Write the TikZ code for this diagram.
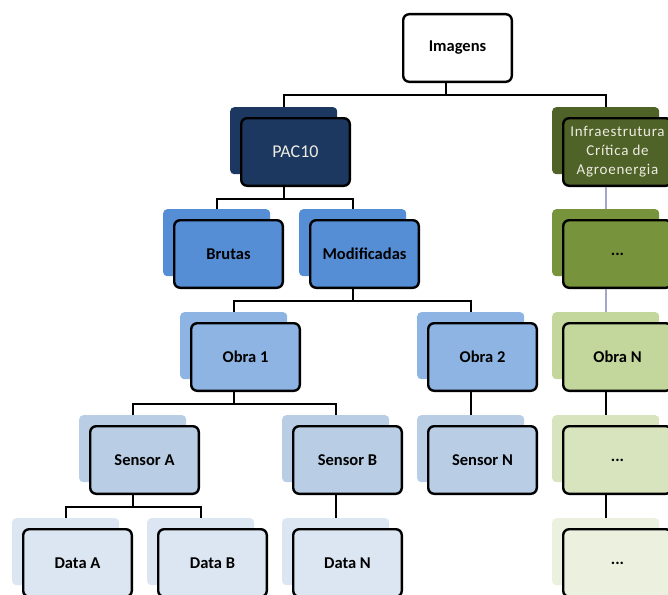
\documentclass[tikz,border=0pt]{standalone}
\usepackage{fontspec}
\setmainfont{Carlito}
\newfontfamily\widefont[LetterSpace=5]{Carlito}
\usepackage{tikz}
\usetikzlibrary{positioning}
\definecolor{colornavy}    {RGB}{28 ,56 ,96 }
\definecolor{colorblue}    {RGB}{85 ,142,213}
\definecolor{colorsky}     {RGB}{142,180,227}
\definecolor{colorice}     {RGB}{185,205,229}
\definecolor{colorfrost}   {RGB}{220,230,242}
\definecolor{colorolive}   {RGB}{79 ,98 ,40 }
\definecolor{colorleaf}    {RGB}{119,147,60 }
\definecolor{colorlime}    {RGB}{195,214,155}
\definecolor{colorpea}     {RGB}{215,228,189}
\definecolor{colormint}    {RGB}{235,241,222}
\definecolor{colorlav}     {RGB}{165,165,200}
\definecolor{colorpale}    {RGB}{238,236,225}

\begin{document}
\begin{tikzpicture}[
    x=1pt, y=1pt,
    font={\bfseries\fontsize{16.5}{19}\selectfont},
    back/.style={fill=#1,rounded corners=4pt,inner sep=0pt,
                 minimum width=107pt,minimum height=67pt,anchor=north west},
    front/.style={fill=#1,draw=black,line width=2.4pt,rounded corners=6pt,
                  inner sep=0pt,align=center,
                  minimum width=108.6pt,minimum height=67.6pt},
    light/.style={text=colorpale,font={\mdseries\fontsize{18}{21}\selectfont}},
    wide/.style={text=colorpale,font={\widefont\fontsize{15}{19}\selectfont}},
    link/.style={draw=black,line width=2pt},
    softlink/.style={draw=colorlav,line width=2pt},
]
    \useasboundingbox (0,0) rectangle (668,-594);
    \clip (0,0) rectangle (668,-594);

    % top
    \node[front=white,anchor=north west] (img) at (402,-13) {Imagens};

    % level 1
    \node[back=colornavy]  (pacB) at (230,-107) {};
    \node[front=colornavy,light,below right=10pt and 10pt of pacB.north west] (pac) {PAC10};
    \node[back=colorolive] (infB) at (552,-107) {};
    \node[front=colorolive,wide,below right=10pt and 10pt of infB.north west] (inf)
        {Infraestrutura\\Crítica de\\Agroenergia};

    % level 2
    \node[back=colorblue]  (brutB) at (163,-209) {};
    \node[front=colorblue,below right=10pt and 10pt of brutB.north west] (brut) {Brutas};
    \node[back=colorblue]  (modB)  at (299,-209) {};
    \node[front=colorblue,below right=10pt and 10pt of modB.north west]  (mod)  {Modificadas};
    \node[back=colorleaf]  (gaB)   at (552,-209) {};
    \node[front=colorleaf,below right=10pt and 10pt of gaB.north west]   (ga)   {...};

    % level 3
    \node[back=colorsky]   (obaB) at (180,-312) {};
    \node[front=colorsky,below right=10pt and 10pt of obaB.north west]  (oba) {Obra 1};
    \node[back=colorsky]   (obbB) at (417,-312) {};
    \node[front=colorsky,below right=10pt and 10pt of obbB.north west]  (obb) {Obra 2};
    \node[back=colorlime]  (obnB) at (552,-312) {};
    \node[front=colorlime,below right=10pt and 10pt of obnB.north west] (obn) {Obra N};

    % level 4
    \node[back=colorice]   (saB) at (79,-415)  {};
    \node[front=colorice,below right=10pt and 10pt of saB.north west] (sa) {Sensor A};
    \node[back=colorice]   (sbB) at (282,-415) {};
    \node[front=colorice,below right=10pt and 10pt of sbB.north west] (sb) {Sensor B};
    \node[back=colorice]   (snB) at (417,-415) {};
    \node[front=colorice,below right=10pt and 10pt of snB.north west] (sn) {Sensor N};
    \node[back=colorpea]   (gbB) at (552,-415) {};
    \node[front=colorpea,below right=10pt and 10pt of gbB.north west] (gb) {...};

    % level 5
    \node[back=colorfrost] (daB) at (12,-518)  {};
    \node[front=colorfrost,below right=10pt and 10pt of daB.north west] (da) {Data A};
    \node[back=colorfrost] (dbB) at (147,-518) {};
    \node[front=colorfrost,below right=10pt and 10pt of dbB.north west] (db) {Data B};
    \node[back=colorfrost] (dnB) at (282,-518) {};
    \node[front=colorfrost,below right=10pt and 10pt of dnB.north west] (dn) {Data N};
    \node[back=colormint]  (gcB) at (552,-518) {};
    \node[front=colormint,below right=10pt and 10pt of gcB.north west]  (gc) {...};

    % connectors
    \draw[link] ([xshift=-12pt]img.south) -- ++(0,-12) coordinate (bus0);
    \draw[link] (pacB.north) |- (bus0) -| (infB.north);

    \draw[link] (pacB.south |- pac.south) -- ++(0,-12) coordinate (bus1);
    \draw[link] (brutB.north) |- (bus1) -| (modB.north);
    \draw[softlink] (infB.south |- inf.south) -- (gaB.north);

    \draw[link] (modB.south |- mod.south) -- ++(0,-12) coordinate (bus2);
    \draw[link] (obaB.north) |- (bus2) -| (obbB.north);
    \draw[softlink] (gaB.south |- ga.south) -- (obnB.north);

    \draw[link] (obaB.south |- oba.south) -- ++(0,-12) coordinate (bus3);
    \draw[link] (saB.north) |- (bus3) -| (sbB.north);
    \draw[link] (obbB.south |- obb.south) -- (snB.north);
    \draw[link] (obnB.south |- obn.south) -- (gbB.north);

    \draw[link] (saB.south |- sa.south) -- ++(0,-12) coordinate (bus4);
    \draw[link] (daB.north) |- (bus4) -| (dbB.north);
    \draw[link] (sbB.south |- sb.south) -- (dnB.north);
    \draw[link] (gbB.south |- gb.south) -- (gcB.north);

\end{tikzpicture}
\end{document}
